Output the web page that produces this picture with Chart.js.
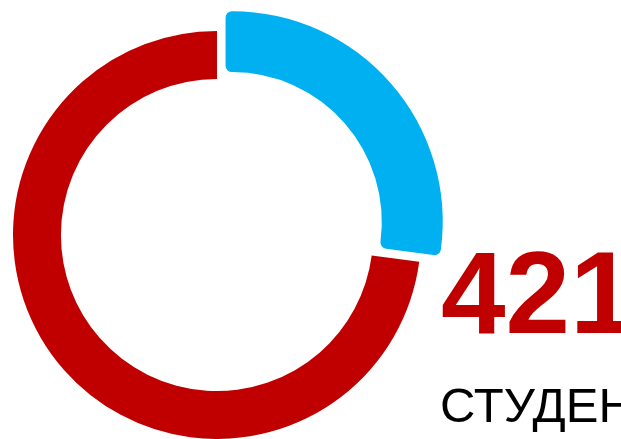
<!DOCTYPE html>
<html>
<head>
<meta charset="utf-8">
<script src="https://cdn.jsdelivr.net/npm/chart.js@4"></script>
<style>
  html, body { margin: 0; padding: 0; background: #fff; overflow: hidden; }
  body { width: 621px; height: 439px; position: relative; }
  #wrap { position: absolute; left: 0; top: 0; width: 621px; height: 439px; }
  .big { position: absolute; left: 441px; top: 235px; font-family: "Liberation Sans", Arial, sans-serif;
         font-weight: bold; font-size: 116px; line-height: 1; color: #C00000; white-space: nowrap; }
  .sub { position: absolute; left: 440px; top: 381px; font-family: "Liberation Sans", Arial, sans-serif;
         font-size: 49px; line-height: 1; color: #000; white-space: nowrap; }
</style>
</head>
<body>
<div id="wrap"><canvas id="chart" width="621" height="439"></canvas></div>
<div class="big" id="count"></div>
<div class="sub" id="caption"></div>
<script>
const labels = ['Бюджет', 'Контракт'];
const values = [27.1, 72.9];
const colors = ['#00B0F0', '#C00000'];
const total = '421';
const caption = 'СТУДЕНТОВ';

document.getElementById('count').textContent = total;
document.getElementById('caption').textContent = caption;

const ctx = document.getElementById('chart').getContext('2d');
new Chart(ctx, {
  type: 'doughnut',
  data: {
    labels: labels,
    datasets: [{
      data: values,
      backgroundColor: colors,
      borderColor: colors,
      borderWidth: [13, 0],
      borderJoinStyle: 'round',
      offset: [80, 0],
      clip: false
    }]
  },
  options: {
    responsive: false,
    animation: false,
    radius: 204,
    cutout: '76.5%',
    layout: { padding: { left: 13, right: 200, top: 31, bottom: 0 } },
    plugins: { legend: { display: false }, tooltip: { enabled: false } },
    events: []
  }
});
</script>
</body>
</html>
